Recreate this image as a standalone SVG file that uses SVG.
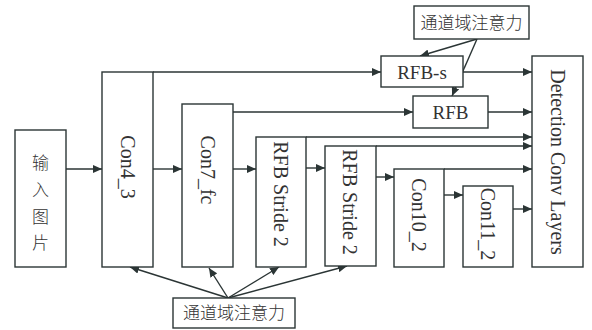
<svg xmlns="http://www.w3.org/2000/svg" width="592" height="330" viewBox="0 0 592 330">
<defs>
<marker id="ah" markerUnits="userSpaceOnUse" markerWidth="9" markerHeight="8" viewBox="0 0 9 8" refX="9" refY="4" orient="auto">
<path d="M0,0 L9,4 L0,8 Z" fill="#2b3535"/>
</marker>
</defs>
<style>
.box{fill:#fff;stroke:#2b3535;stroke-width:1.4}
.ln{fill:none;stroke:#2b3535;stroke-width:1.4}
.ar{fill:none;stroke:#2b3535;stroke-width:1.4;marker-end:url(#ah)}
.t{font-family:"Liberation Serif","Noto Sans CJK SC",serif;font-size:20px;fill:#333;text-anchor:middle;dominant-baseline:central}
.h{font-family:"Liberation Serif","Noto Sans CJK SC",serif;font-size:19px;fill:#333;text-anchor:middle}
.cn{font-family:"Noto Sans CJK SC",sans-serif;font-size:17px;fill:#333;text-anchor:middle;font-weight:300}
</style>
<rect width="592" height="330" fill="#fff"/>
<g id="connectors">
<line class="ar" x1="66" y1="169" x2="102" y2="169"/>
<line class="ar" x1="153" y1="169" x2="182" y2="169"/>
<line class="ar" x1="233" y1="169" x2="256" y2="169"/>
<line class="ar" x1="306" y1="168" x2="325" y2="168"/>
<line class="ar" x1="376" y1="177" x2="394" y2="177"/>
<line class="ar" x1="444" y1="195" x2="463" y2="195"/>
<line class="ar" x1="153" y1="72" x2="381" y2="72"/>
<line class="ar" x1="463" y1="72" x2="532" y2="72"/>
<line class="ar" x1="233" y1="112" x2="413" y2="112"/>
<line class="ar" x1="488" y1="112" x2="532" y2="112"/>
<line class="ar" x1="306" y1="137" x2="532" y2="137"/>
<line class="ar" x1="376" y1="146" x2="532" y2="146"/>
<line class="ar" x1="444" y1="169" x2="532" y2="169"/>
<line class="ar" x1="513" y1="209" x2="532" y2="209"/>
<line class="ar" x1="477" y1="39" x2="420" y2="56"/>
<line class="ar" x1="477" y1="39" x2="452" y2="96"/>
<line class="ar" x1="228" y1="298" x2="130" y2="267"/>
<line class="ar" x1="228" y1="298" x2="209" y2="268"/>
<line class="ar" x1="228" y1="298" x2="279" y2="267"/>
<line class="ar" x1="228" y1="298" x2="347" y2="266"/>
</g>
<g id="input">
<rect class="box" x="15" y="130" width="51" height="137"/>
<text class="cn" x="40.5" y="169">输</text>
<text class="cn" x="40.5" y="196">入</text>
<text class="cn" x="40.5" y="223">图</text>
<text class="cn" x="40.5" y="249">片</text>
</g>
<g id="con4_3">
<rect class="box" x="102" y="72" width="51" height="195"/>
<text class="t" transform="rotate(90 128 167)" x="128" y="167">Con4_3</text>
</g>
<g id="con7_fc">
<rect class="box" x="182" y="104" width="51" height="163"/>
<text class="t" transform="rotate(90 208 170)" x="208" y="170">Con7_fc</text>
</g>
<g id="rfb_stride_1">
<rect class="box" x="256" y="137" width="50" height="130"/>
<text class="t" transform="rotate(90 281 194)" x="281" y="194">RFB Stride 2</text>
</g>
<g id="rfb_stride_2">
<rect class="box" x="325" y="146" width="51" height="120"/>
<text class="t" transform="rotate(90 350 202)" x="350" y="202">RFB Stride 2</text>
</g>
<g id="con10_2">
<rect class="box" x="394" y="169" width="50" height="98"/>
<text class="t" transform="rotate(90 419 215)" x="419" y="215">Con10_2</text>
</g>
<g id="con11_2">
<rect class="box" x="463" y="186" width="50" height="81"/>
<text class="t" transform="rotate(90 488 224)" x="488" y="224">Con11_2</text>
</g>
<g id="detection">
<rect class="box" x="532" y="56" width="51" height="211"/>
<text class="t" transform="rotate(90 557.5 162)" x="557.5" y="162">Detection Conv Layers</text>
</g>
<g id="rfb_s">
<rect class="box" x="381" y="56" width="82" height="31"/>
<text class="h" x="422" y="79">RFB-s</text>
</g>
<g id="rfb">
<rect class="box" x="413" y="96" width="75" height="32"/>
<text class="h" x="450.5" y="119">RFB</text>
</g>
<g id="attention_top">
<rect class="box" x="414" y="6" width="115" height="33"/>
<text class="cn" x="471.5" y="29">通道域注意力</text>
</g>
<g id="attention_bottom">
<rect class="box" x="173" y="298" width="122" height="30"/>
<text class="cn" x="234" y="319">通道域注意力</text>
</g>
</svg>
